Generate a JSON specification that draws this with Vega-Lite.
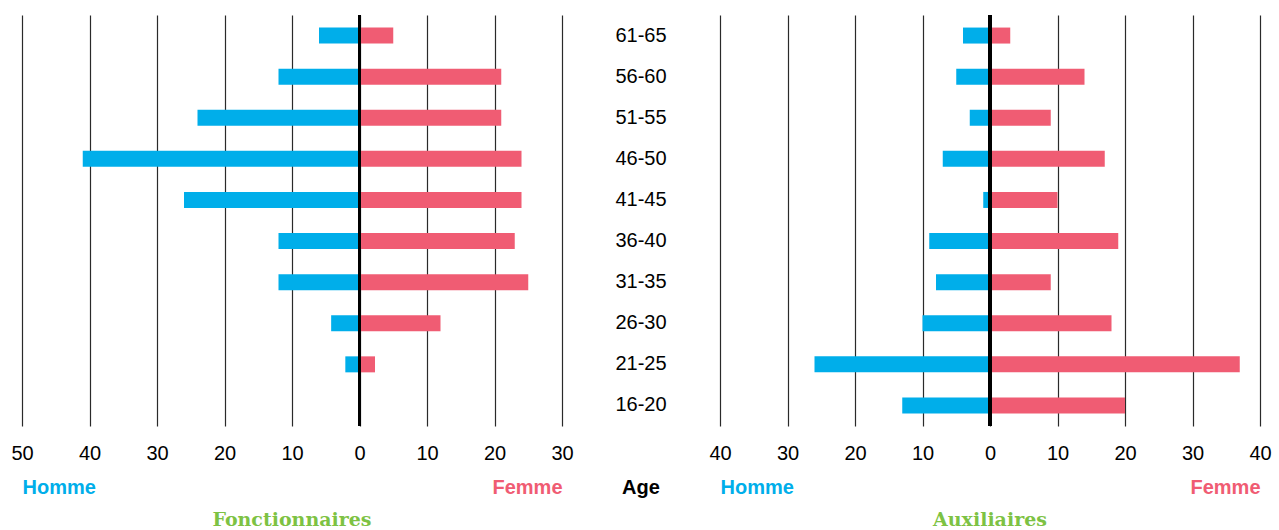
{
  "$schema": "https://vega.github.io/schema/vega-lite/v6.json",
  "padding": {"left": 10, "top": 13, "right": 0, "bottom": 0},
  "background": "white",
  "spacing": 0,
  "config": {
    "view": {"stroke": null},
    "font": "Liberation Sans",
    "axis": {
      "labelFont": "Liberation Sans",
      "labelFontSize": 20,
      "labelColor": "black",
      "labelPadding": 17,
      "labelFlush": false,
      "ticks": false,
      "domain": false,
      "gridColor": "#2a2a2a",
      "gridWidth": 1.2,
      "gridOpacity": 1,
      "titleFont": "Liberation Sans",
      "titleFontSize": 20,
      "titleFontWeight": "bold",
      "titlePadding": 14
    }
  },
  "datasets": {
    "fonct": [
      {"age": "61-65", "sexe": "Homme", "value": -6},
      {"age": "61-65", "sexe": "Femme", "value": 5},
      {"age": "56-60", "sexe": "Homme", "value": -12},
      {"age": "56-60", "sexe": "Femme", "value": 21},
      {"age": "51-55", "sexe": "Homme", "value": -24},
      {"age": "51-55", "sexe": "Femme", "value": 21},
      {"age": "46-50", "sexe": "Homme", "value": -41},
      {"age": "46-50", "sexe": "Femme", "value": 24},
      {"age": "41-45", "sexe": "Homme", "value": -26},
      {"age": "41-45", "sexe": "Femme", "value": 24},
      {"age": "36-40", "sexe": "Homme", "value": -12},
      {"age": "36-40", "sexe": "Femme", "value": 23},
      {"age": "31-35", "sexe": "Homme", "value": -12},
      {"age": "31-35", "sexe": "Femme", "value": 25},
      {"age": "26-30", "sexe": "Homme", "value": -4.2},
      {"age": "26-30", "sexe": "Femme", "value": 12},
      {"age": "21-25", "sexe": "Homme", "value": -2.1},
      {"age": "21-25", "sexe": "Femme", "value": 2.3},
      {"age": "16-20", "sexe": "Homme", "value": 0},
      {"age": "16-20", "sexe": "Femme", "value": 0}
    ],
    "aux": [
      {"age": "61-65", "sexe": "Homme", "value": -4},
      {"age": "61-65", "sexe": "Femme", "value": 3},
      {"age": "56-60", "sexe": "Homme", "value": -5},
      {"age": "56-60", "sexe": "Femme", "value": 14},
      {"age": "51-55", "sexe": "Homme", "value": -3},
      {"age": "51-55", "sexe": "Femme", "value": 9},
      {"age": "46-50", "sexe": "Homme", "value": -7},
      {"age": "46-50", "sexe": "Femme", "value": 17},
      {"age": "41-45", "sexe": "Homme", "value": -1},
      {"age": "41-45", "sexe": "Femme", "value": 10},
      {"age": "36-40", "sexe": "Homme", "value": -9},
      {"age": "36-40", "sexe": "Femme", "value": 19},
      {"age": "31-35", "sexe": "Homme", "value": -8},
      {"age": "31-35", "sexe": "Femme", "value": 9},
      {"age": "26-30", "sexe": "Homme", "value": -10},
      {"age": "26-30", "sexe": "Femme", "value": 18},
      {"age": "21-25", "sexe": "Homme", "value": -26},
      {"age": "21-25", "sexe": "Femme", "value": 37},
      {"age": "16-20", "sexe": "Homme", "value": -13},
      {"age": "16-20", "sexe": "Femme", "value": 20}
    ],
    "ages": [
      {"age": "61-65"}, {"age": "56-60"}, {"age": "51-55"}, {"age": "46-50"}, {"age": "41-45"},
      {"age": "36-40"}, {"age": "31-35"}, {"age": "26-30"}, {"age": "21-25"}, {"age": "16-20"}
    ]
  },
  "hconcat": [
    {
      "width": 540,
      "height": 411,
      "data": {"name": "fonct"},
      "title": {"text": "Fonctionnaires", "orient": "bottom", "anchor": "middle", "font": "DejaVu Serif", "fontSize": 19, "fontWeight": "bold", "color": "#7DC243", "offset": 14},
      "layer": [
        {
          "mark": {"type": "bar", "height": 16},
          "encoding": {
            "y": {"field": "age", "type": "nominal", "sort": ["61-65", "56-60", "51-55", "46-50", "41-45", "36-40", "31-35", "26-30", "21-25", "16-20"], "axis": null},
            "x": {"field": "value", "type": "quantitative", "scale": {"domain": [-50, 30], "nice": false, "zero": false},
              "axis": {"orient": "bottom", "values": [-50, -40, -30, -20, -10, 0, 10, 20, 30], "labelExpr": "abs(datum.value)", "title": "Homme", "titleAnchor": "start", "titleColor": "#00AEEA"}},
            "color": {"field": "sexe", "type": "nominal", "scale": {"domain": ["Homme", "Femme"], "range": ["#00AEEA", "#F05C73"]}, "legend": null}
          }
        },
        {
          "mark": {"type": "rule", "strokeWidth": 3, "color": "black"},
          "encoding": {
            "x": {"datum": 0, "type": "quantitative",
              "axis": {"orient": "bottom", "values": [-50, 30], "grid": false, "labels": false, "titlePadding": 51, "title": "Femme", "titleAnchor": "end", "titleColor": "#F05C73"}}
          }
        }
      ],
      "resolve": {"axis": {"x": "independent"}}
    },
    {
      "width": 134,
      "height": 411,
      "data": {"name": "ages"},
      "title": {"text": "Age", "orient": "bottom", "anchor": "middle", "font": "Liberation Sans", "fontSize": 20, "fontWeight": "bold", "color": "black", "offset": 52},
      "mark": {"type": "text", "font": "Liberation Sans", "fontSize": 20, "color": "black"},
      "encoding": {
        "y": {"field": "age", "type": "nominal", "sort": ["61-65", "56-60", "51-55", "46-50", "41-45", "36-40", "31-35", "26-30", "21-25", "16-20"], "axis": null},
        "text": {"field": "age"}
      }
    },
    {
      "width": 540,
      "height": 411,
      "data": {"name": "aux"},
      "title": {"text": "Auxiliaires", "orient": "bottom", "anchor": "middle", "font": "DejaVu Serif", "fontSize": 19, "fontWeight": "bold", "color": "#7DC243", "offset": 14},
      "layer": [
        {
          "mark": {"type": "bar", "height": 16},
          "encoding": {
            "y": {"field": "age", "type": "nominal", "sort": ["61-65", "56-60", "51-55", "46-50", "41-45", "36-40", "31-35", "26-30", "21-25", "16-20"], "axis": null},
            "x": {"field": "value", "type": "quantitative", "scale": {"domain": [-40, 40], "nice": false, "zero": false},
              "axis": {"orient": "bottom", "values": [-40, -30, -20, -10, 0, 10, 20, 30, 40], "labelExpr": "abs(datum.value)", "title": "Homme", "titleAnchor": "start", "titleColor": "#00AEEA"}},
            "color": {"field": "sexe", "type": "nominal", "scale": {"domain": ["Homme", "Femme"], "range": ["#00AEEA", "#F05C73"]}, "legend": null}
          }
        },
        {
          "mark": {"type": "rule", "strokeWidth": 3, "color": "black"},
          "encoding": {
            "x": {"datum": 0, "type": "quantitative",
              "axis": {"orient": "bottom", "values": [-40, 40], "grid": false, "labels": false, "titlePadding": 51, "title": "Femme", "titleAnchor": "end", "titleColor": "#F05C73"}}
          }
        }
      ],
      "resolve": {"axis": {"x": "independent"}}
    }
  ]
}
